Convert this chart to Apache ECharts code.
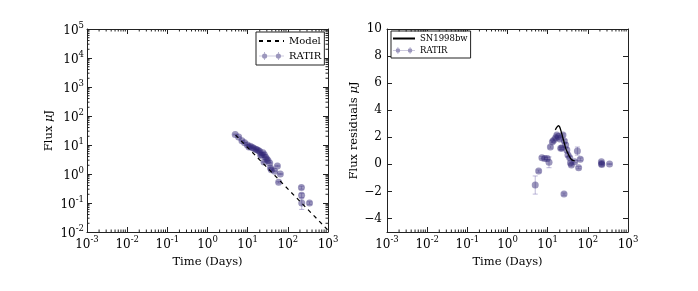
<!DOCTYPE html>
<html><head><meta charset="utf-8">
<script src="https://cdn.jsdelivr.net/npm/echarts@6/dist/echarts.min.js"></script>
<style>html,body{margin:0;padding:0;background:#fff}#c{width:698px;height:291px}</style>
</head><body><div id="c"></div>
<script>
// ---- data ----
const times    = [4.9, 5.97, 7.2, 8.4, 9.8, 10.8, 11.7, 13.1, 14.1, 15.8, 17, 18.5, 20, 21.1, 22.5, 24, 25.5, 26, 28, 30, 32, 35.4, 37, 39, 47, 55, 59, 65, 218, 220, 222, 347];
const flux     = [23, 19, 14, 12, 10, 8.6, 9.0, 8.2, 7.8, 7.2, 6.9, 6.5, 6.0, 4.4, 4.5, 5.4, 2.6, 4.6, 3.8, 3.3, 2.9, 2.4, 1.6, 1.4, 1.25, 1.9, 0.52, 1.0, 0.34, 0.185, 0.10, 0.10];
const fluxErr  = [0.8, 0.6, 0.4, 0.4, 0.3, 0.3, 0.3, 0.25, 0.25, 0.2, 0.2, 0.2, 0.2, 0.15, 0.15, 0.15, 0.1, 0.15, 0.12, 0.1, 0.1, 0.08, 0.06, 0.06, 0.05, 0.08, 0.03, 0.04, 0.04, 0.03, 0.04, 0.01];
const resid    = [-1.53, -0.5, 0.49, 0.44, 0.44, 0.15, 1.28, 1.67, 1.78, 1.97, 2.17, 2.05, 1.87, 1.18, 1.2, 2.17, -2.2, 1.72, 1.43, 1.06, 0.69, 0.49, 0.1, -0.05, 0.2, 0.98, -0.25, 0.37, 0.2, 0.05, -0.02, 0.02];
const residErr = [0.67, 0.08, 0.08, 0.08, 0.08, 0.4, 0.08, 0.08, 0.08, 0.08, 0.08, 0.08, 0.08, 0.08, 0.08, 0.08, 0.08, 0.1, 0.15, 0.15, 0.12, 0.1, 0.08, 0.08, 0.08, 0.3, 0.08, 0.1, 0.05, 0.05, 0.05, 0.03];
const modelT   = [5, 1000];
const modelF   = [22, 0.0115];
const snT      = [15.5, 17, 18.5, 20, 22, 25, 28, 32, 36, 40, 47];
const snR      = [2.55, 2.75, 2.85, 2.75, 2.35, 1.75, 1.2, 0.8, 0.5, 0.33, 0.25];
const yResTicks = [-4, -2, 0, 2, 4, 6, 8, 10];

// ---- styling ----
const FF = 'DejaVu Serif';
const AX = '#222';
const PT = 'rgba(48,38,118,0.6)';
const EB = 'rgba(110,100,170,0.45)';
const supRich = {
  b: {fontFamily: FF, fontSize: 12, color: '#000', lineHeight: 16, verticalAlign: 'bottom'},
  s: {fontFamily: FF, fontSize: 8.5, color: '#000', lineHeight: 16, verticalAlign: 'top'}
};
const expFmt = v => { const e = Math.round(Math.log10(v)); return '{b|10}{s|' + e + '}'; };

const minorX = [], minorY = [];
for (let k = -3; k < 3; k++) for (let m = 2; m <= 9; m++) minorX.push(m * Math.pow(10, k));
for (let k = -2; k < 5; k++) for (let m = 2; m <= 9; m++) minorY.push(m * Math.pow(10, k));

const grids = [
  {left: 87, top: 29, width: 241, height: 203, show: false},
  {left: 387, top: 29, width: 241, height: 203, show: false}
];
function logX(gi, pos, showLabel) {
  return {type: 'log', logBase: 10, gridIndex: gi, position: pos, min: 0.001, max: 1000,
    splitNumber: 6,
    axisLine: {show: true, onZero: false, lineStyle: {color: AX, width: 1}},
    axisTick: {show: true, inside: true, length: 5, lineStyle: {color: AX}},
    splitLine: {show: false},
    axisLabel: {show: showLabel, formatter: expFmt, rich: supRich, margin: 3, fontSize: 12, fontFamily: FF},
    name: showLabel ? 'Time (Days)' : '', nameLocation: 'middle', nameGap: 21,
    nameTextStyle: {fontFamily: FF, fontSize: 11.5, color: '#000'}
  };
}
const xAxes = [logX(0, 'bottom', true), logX(0, 'top', false), logX(1, 'bottom', true), logX(1, 'top', false)];
function logY(pos, showLabel) {
  return {type: 'log', logBase: 10, gridIndex: 0, position: pos, min: 0.01, max: 100000,
    splitNumber: 7,
    axisLine: {show: true, onZero: false, lineStyle: {color: AX, width: 1}},
    axisTick: {show: true, inside: true, length: 5, lineStyle: {color: AX}},
    splitLine: {show: false},
    axisLabel: {show: showLabel, formatter: expFmt, rich: supRich, margin: 3, fontSize: 12, fontFamily: FF},
    name: showLabel ? 'Flux {i|μ}J' : '', nameLocation: 'middle', nameGap: 32,
    nameTextStyle: {fontFamily: FF, fontSize: 11.5, color: '#000',
      rich: {i: {fontFamily: FF, fontSize: 11.5, fontStyle: 'italic', color: '#000'}}}
  };
}
function linY(pos, showLabel) {
  return {type: 'value', gridIndex: 1, position: pos, min: -5, max: 10,
    axisLine: {show: true, onZero: false, lineStyle: {color: AX, width: 1}},
    axisTick: {show: true, inside: true, length: 5, lineStyle: {color: AX}, customValues: yResTicks},
    splitLine: {show: false},
    axisLabel: {show: showLabel, customValues: yResTicks, margin: 5,
      formatter: v => (v < 0 ? '\u2212' + Math.abs(v) : String(v)),
      fontFamily: FF, fontSize: 12, color: '#000'},
    name: showLabel ? 'Flux residuals {i|μ}J' : '', nameLocation: 'middle', nameGap: 21,
    nameTextStyle: {fontFamily: FF, fontSize: 11.5, color: '#000',
      rich: {i: {fontFamily: FF, fontSize: 11.5, fontStyle: 'italic', color: '#000'}}}
  };
}
const yAxes = [logY('left', true), logY('right', false), linY('left', true), linY('right', false)];

function errSeries(name, xi, yi, xs, ys, es) {
  return {type: 'custom', name: name, xAxisIndex: xi, yAxisIndex: yi, z: 2, silent: true,
    data: xs.map((t, i) => [t, ys[i], es[i]]),
    renderItem: (params, api) => {
      const t = api.value(0), y = api.value(1), e = api.value(2);
      const lo = api.coord([t, y - e]), hi = api.coord([t, y + e]);
      const st = {stroke: EB, lineWidth: 1};
      return {type: 'group', children: [
        {type: 'line', shape: {x1: lo[0], y1: lo[1], x2: hi[0], y2: hi[1]}, style: st},
        {type: 'line', shape: {x1: lo[0] - 2.5, y1: lo[1], x2: lo[0] + 2.5, y2: lo[1]}, style: st},
        {type: 'line', shape: {x1: hi[0] - 2.5, y1: hi[1], x2: hi[0] + 2.5, y2: hi[1]}, style: st}
      ]};
    }
  };
}
function minorXSeries(xi, yi, yref) {
  return {type: 'custom', xAxisIndex: xi, yAxisIndex: yi, silent: true, z: 5,
    data: minorX.map(v => [v, yref]),
    renderItem: (params, api) => {
      const cs = params.coordSys;
      const p = api.coord([api.value(0), yref]);
      const st = {stroke: AX, lineWidth: 1};
      return {type: 'group', children: [
        {type: 'line', shape: {x1: p[0], y1: cs.y + cs.height, x2: p[0], y2: cs.y + cs.height - 2.5}, style: st},
        {type: 'line', shape: {x1: p[0], y1: cs.y, x2: p[0], y2: cs.y + 2.5}, style: st}
      ]};
    }
  };
}
const minorYSeries = {type: 'custom', xAxisIndex: 0, yAxisIndex: 0, silent: true, z: 5,
  data: minorY.map(v => [1, v]),
  renderItem: (params, api) => {
    const cs = params.coordSys;
    const p = api.coord([1, api.value(1)]);
    const st = {stroke: AX, lineWidth: 1};
    return {type: 'group', children: [
      {type: 'line', shape: {x1: cs.x, y1: p[1], x2: cs.x + 2.5, y2: p[1]}, style: st},
      {type: 'line', shape: {x1: cs.x + cs.width, y1: p[1], x2: cs.x + cs.width - 2.5, y2: p[1]}, style: st}
    ]};
  }
};

const ratirIcon = 'path://M0.5,4.6H29.5V5.4H0.5Z M6.6,0.5H7.4V9.5H6.6Z M22.6,0.5H23.4V9.5H22.6Z ' +
  'M4,5a3,3 0 1,1 6,0a3,3 0 1,1 -6,0Z M20,5a3,3 0 1,1 6,0a3,3 0 1,1 -6,0Z';
const hideSym = {color: 'rgba(0,0,0,0)', borderWidth: 0};
const legendBase = {orient: 'vertical', backgroundColor: '#fff', borderColor: AX, borderWidth: 1,
  borderRadius: 0, selectedMode: false, itemHeight: 9};

const option = {
  animation: false,
  backgroundColor: '#fff',
  grid: grids,
  xAxis: xAxes,
  yAxis: yAxes,
  legend: [
    Object.assign({}, legendBase, {left: 256, top: 32, padding: [4, 3, 4, 2], itemGap: 5, itemWidth: 25,
      textStyle: {fontFamily: FF, fontSize: 10, color: '#000'},
      data: [{name: 'Model', itemStyle: hideSym}, {name: 'RATIR', icon: ratirIcon}]}),
    Object.assign({}, legendBase, {left: 391, top: 31, padding: [3, 3, 3, 1], itemGap: 3, itemWidth: 22,
      textStyle: {fontFamily: FF, fontSize: 8.5, color: '#000'},
      data: [{name: 'SN1998bw', itemStyle: hideSym}, {name: 'RATIR', icon: ratirIcon}]})
  ],
  series: [
    errSeries('ratirErrL', 0, 0, times, flux, fluxErr),
    {type: 'scatter', name: 'RATIR', xAxisIndex: 0, yAxisIndex: 0, z: 3, symbolSize: 7,
      itemStyle: {color: PT}, data: times.map((t, i) => [t, flux[i]])},
    {type: 'line', name: 'Model', xAxisIndex: 0, yAxisIndex: 0, z: 4, symbol: 'none',
      lineStyle: {color: '#000', width: 1.2, type: [4, 4]}, itemStyle: {color: '#000'},
      data: modelT.map((t, i) => [t, modelF[i]])},
    minorXSeries(0, 0, 1),
    minorYSeries,
    errSeries('ratirErrR', 2, 2, times, resid, residErr),
    {type: 'scatter', name: 'RATIR', xAxisIndex: 2, yAxisIndex: 2, z: 3, symbolSize: 7,
      itemStyle: {color: PT}, data: times.map((t, i) => [t, resid[i]])},
    {type: 'line', name: 'SN1998bw', xAxisIndex: 2, yAxisIndex: 2, z: 4, symbol: 'none', smooth: 0.3,
      lineStyle: {color: '#000', width: 1.3}, itemStyle: {color: '#000'},
      data: snT.map((t, i) => [t, snR[i]])},
    minorXSeries(2, 2, 0)
  ]
};
const chart = echarts.init(document.getElementById('c'), null, {renderer: 'canvas'});
chart.setOption(option);
</script></body></html>
